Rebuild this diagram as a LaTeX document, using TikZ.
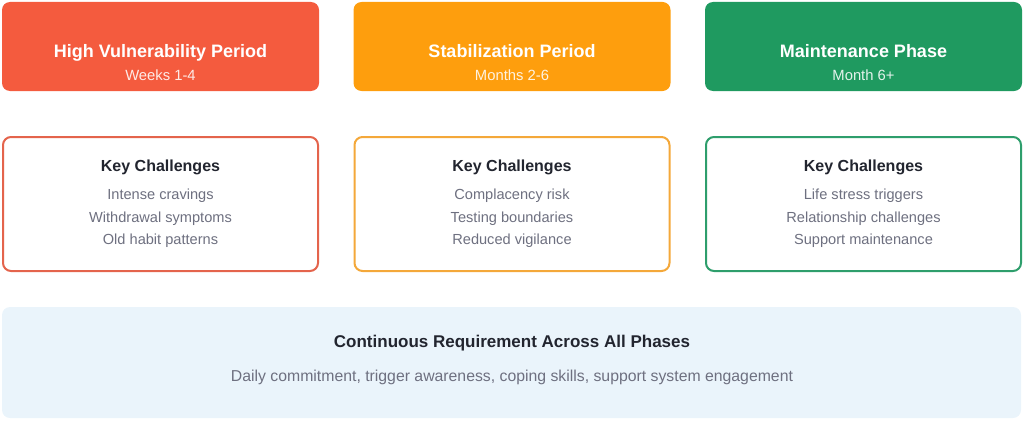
\documentclass[tikz,border=0pt]{standalone}
\usepackage{fontspec}
\setmainfont{Liberation Sans}
\definecolor{cred}{HTML}{F45B3E}
\definecolor{corange}{HTML}{FE9E0D}
\definecolor{cgreen}{HTML}{1F9A60}
\definecolor{bred}{HTML}{E4644C}
\definecolor{borange}{HTML}{F4A83A}
\definecolor{bgreen}{HTML}{2E9E6C}
\definecolor{cbot}{HTML}{EAF4FB}
\definecolor{dark}{HTML}{22252F}
\definecolor{gtext}{HTML}{6E7080}
\tikzset{
  phase/.style={rectangle, rounded corners=8pt, minimum width=317pt, minimum height=89pt, inner sep=0pt},
  chal/.style={rectangle, rounded corners=8pt, draw, line width=2pt, fill=white, minimum width=315pt, minimum height=134pt, inner sep=0pt},
  botbox/.style={rectangle, rounded corners=8pt, fill=cbot, minimum width=1019pt, minimum height=111pt, inner sep=0pt},
  txt/.style={anchor=base, inner sep=0pt},
  ptitle/.style={txt, text=white, font=\bfseries\fontsize{18}{20}\selectfont},
  psub/.style={txt, text=white, opacity=0.88, font=\fontsize{14.8}{16}\selectfont},
  ctitle/.style={txt, text=dark, font=\bfseries\fontsize{16}{18}\selectfont},
  citem/.style={txt, text=gtext, font=\fontsize{14.6}{16}\selectfont},
  btitle/.style={txt, text=dark, font=\bfseries\fontsize{17}{19}\selectfont},
  bsub/.style={txt, text=gtext, font=\fontsize{15.8}{17}\selectfont}
}
\begin{document}
\begin{tikzpicture}[x=1pt,y=-1pt]
\useasboundingbox (0,0) rectangle (1024,420);
% top phase boxes
\node[phase, fill=cred] (p1) at (160.5,46.5) {};
\node[phase, fill=corange] (p2) at (512,46.5) {};
\node[phase, fill=cgreen] (p3) at (863.5,46.5) {};
\node[ptitle] (p1t) at (160.5,57) {High Vulnerability Period};
\node[psub] (p1s) at (160.5,80) {Weeks 1-4};
\node[ptitle] (p2t) at (512,57) {Stabilization Period};
\node[psub] (p2s) at (512,80) {Months 2-6};
\node[ptitle] (p3t) at (863.5,57) {Maintenance Phase};
\node[psub] (p3s) at (863.5,80) {Month 6+};
% challenge boxes
\node[chal, draw=bred] (c1) at (160.5,204) {};
\node[chal, draw=borange] (c2) at (512,204) {};
\node[chal, draw=bgreen] (c3) at (863.5,204) {};
\node[ctitle] (c1t) at (160.5,171) {Key Challenges};
\node[citem] (c1a) at (160.5,199.5) {Intense cravings};
\node[citem] (c1b) at (160.5,222.5) {Withdrawal symptoms};
\node[citem] (c1c) at (160.5,244.5) {Old habit patterns};
\node[ctitle] (c2t) at (512,171) {Key Challenges};
\node[citem] (c2a) at (512,199.5) {Complacency risk};
\node[citem] (c2b) at (512,222.5) {Testing boundaries};
\node[citem] (c2c) at (512,244.5) {Reduced vigilance};
\node[ctitle] (c3t) at (863.5,171) {Key Challenges};
\node[citem] (c3a) at (863.5,199.5) {Life stress triggers};
\node[citem] (c3b) at (863.5,222.5) {Relationship challenges};
\node[citem] (c3c) at (863.5,244.5) {Support maintenance};
% bottom box
\node[botbox] (b) at (511.5,362.5) {};
\node[btitle] (bt) at (512,347) {Continuous Requirement Across All Phases};
\node[bsub] (bs) at (512,381) {Daily commitment, trigger awareness, coping skills, support system engagement};
\end{tikzpicture}
\end{document}
